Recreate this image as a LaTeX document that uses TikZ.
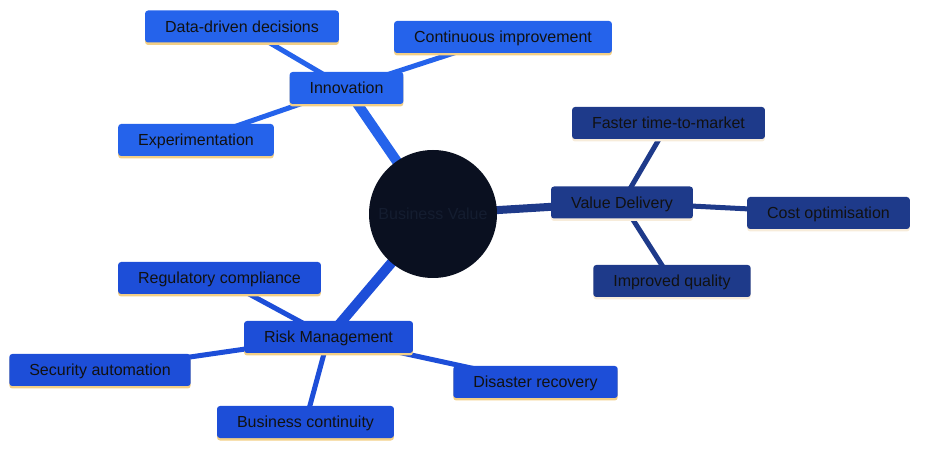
\documentclass[tikz,border=0pt]{standalone}
\usepackage{fontspec}
\setmainfont{Liberation Sans}
\usetikzlibrary{backgrounds}
\definecolor{innovblue}{HTML}{2563EB}
\definecolor{riskblue}{HTML}{1D4ED8}
\definecolor{valueblue}{HTML}{1E3A8A}
\definecolor{rootfill}{HTML}{0A1020}
\definecolor{roottext}{HTML}{141D30}
\definecolor{labeltext}{HTML}{111111}
\definecolor{ybar}{HTML}{F3CF85}
\definecolor{cbar}{HTML}{F7ECDA}
\tikzset{
	topic/.style={rounded corners=3pt, minimum height=32pt, inner xsep=20pt,
		text height=11.5pt, text depth=0pt,
		text=labeltext, font=\fontsize{16}{19}\selectfont},
	underbar/.style={preaction={fill=#1, transform canvas={yshift=-2.5pt}}},
	branch/.style={line width=#1},
}

\begin{document}
\begin{tikzpicture}[x=1pt,y=-1pt]
	\useasboundingbox (0,0) rectangle (927,454);

	\node[circle, fill=rootfill, minimum size=128pt, text=roottext,
		text height=11.5pt, text depth=0pt,
		font=\fontsize{16}{19}\selectfont] (root) at (433,214) {Business Value};

	\begin{scope}[every node/.style={topic, fill=innovblue, underbar=ybar}]
		\node (innov) at (346.5,88) {Innovation};
		\node (daten) at (242,26.5) {Data-driven decisions};
		\node (kaizen) at (503,37) {Continuous improvement};
		\node (versuch) at (196,140) {Experimentation};
	\end{scope}

	\begin{scope}[every node/.style={topic, fill=valueblue, underbar=cbar}]
		\node (value) at (622,202.5) {Value Delivery};
		\node (faster) at (668.5,123) {Faster time-to-market};
		\node (kosten) at (828.5,213) {Cost optimisation};
		\node (quality) at (672,281) {Improved quality};
	\end{scope}

	\begin{scope}[every node/.style={topic, fill=riskblue, underbar=ybar}]
		\node (risk) at (328.5,337) {Risk Management};
		\node (regul) at (219.5,278) {Regulatory compliance};
		\node (secauto) at (100,370) {Security automation};
		\node (disaster) at (535.5,382) {Disaster recovery};
		\node (contin) at (305.5,422) {Business continuity};
	\end{scope}

	\begin{scope}[on background layer]
		\draw[branch=10pt, innovblue] (root.center) -- (innov.center);
		\draw[branch=8pt, valueblue] (root.center) -- (value.center);
		\draw[branch=10pt, riskblue] (root.center) -- (risk.center);

		\draw[branch=5pt, innovblue] (innov.center) -- (daten.center);
		\draw[branch=5pt, innovblue] (innov.center) -- (kaizen.center);
		\draw[branch=5pt, innovblue] (innov.center) -- (versuch.center);

		\draw[branch=5pt, valueblue] (value.center) -- (faster.center);
		\draw[branch=5pt, valueblue] (value.center) -- (kosten.center);
		\draw[branch=5pt, valueblue] (value.center) -- (quality.center);

		\draw[branch=5pt, riskblue] (risk.center) -- (regul.center);
		\draw[branch=5pt, riskblue] (risk.center) -- (secauto.center);
		\draw[branch=5pt, riskblue] (risk.center) -- (disaster.center);
		\draw[branch=5pt, riskblue] (risk.center) -- (contin.center);
	\end{scope}
\end{tikzpicture}
\end{document}
